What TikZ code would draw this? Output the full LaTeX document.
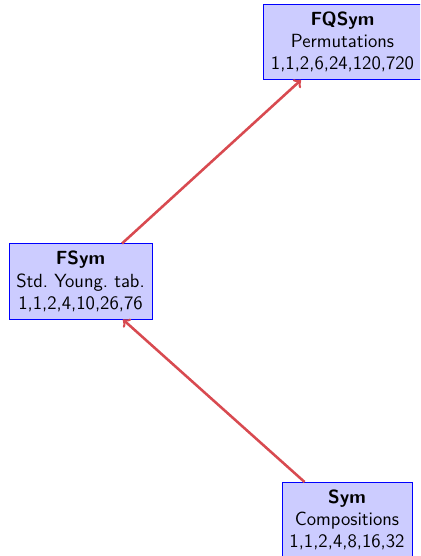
\documentclass[tikz,border=0pt]{standalone}
\usepackage{tikz}
\definecolor{arrowred}{RGB}{216,74,80}
\begin{document}
\begin{tikzpicture}[x=0.6667pt,y=-0.6667pt,
  algbox/.style={draw=blue, fill=blue!20, align=center,
    font=\sffamily\fontsize{12.7}{14.9}\selectfont, inner sep=4.9pt},
  incl/.style={->, draw=arrowred, line width=1.7pt}]
  \useasboundingbox (0,0) rectangle (420,556);
  \clip (0,0) rectangle (420,556);
  \node[algbox] (fqsym) at (342.5,42) {\textbf{FQSym}\\Permutations\\1,1,2,6,24,120,720};
  \node[algbox] (fsym) at (80.5,281.5) {\textbf{FSym}\\Std.\ Young.\ tab.\\1,1,2,4,10,26,76};
  \node[algbox] (sym) at (347,520) {\textbf{Sym}\\Compositions\\1,1,2,4,8,16,32};
  \draw[incl] (sym) -- (fsym);
  \draw[incl] (fsym) -- (fqsym);
\end{tikzpicture}
\end{document}
